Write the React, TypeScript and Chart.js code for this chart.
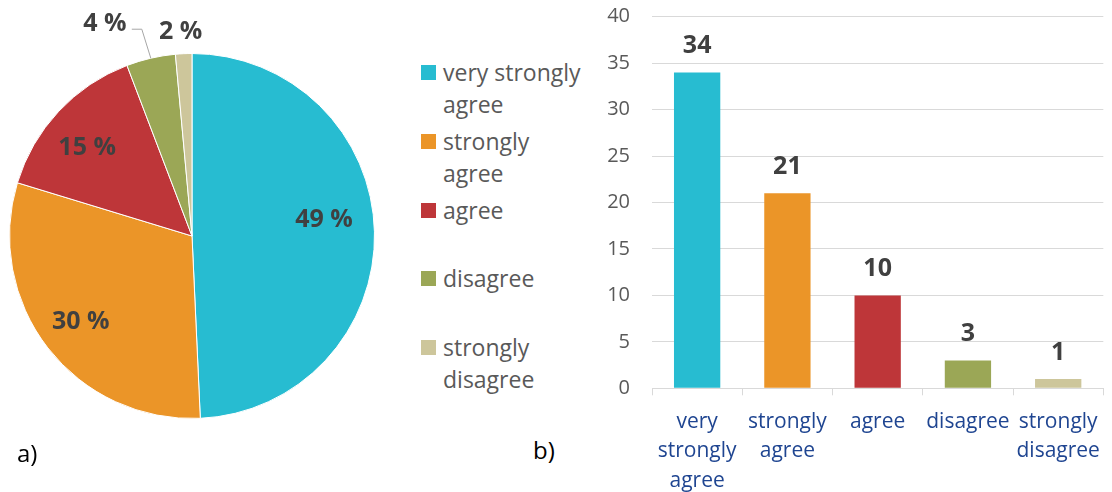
import React, { useEffect, useRef } from 'react';
import { Chart, registerables } from 'chart.js';

Chart.register(...registerables);

// ---------- data ----------
const categories = ['very strongly agree', 'strongly agree', 'agree', 'disagree', 'strongly disagree'];
const counts = [34, 21, 10, 3, 1];
const piePercentLabels = ['49 %', '30 %', '15 %', '4 %', '2 %'];
const legendLines = [['very strongly', 'agree'], ['strongly', 'agree'], ['agree'], ['disagree'], ['strongly', 'disagree']];
const barTickLines = [['very', 'strongly', 'agree'], ['strongly', 'agree'], ['agree'], ['disagree'], ['strongly', 'disagree']];
const yMin = 0;
const yMax = 40;
const yStep = 5;
const colors = ['#27BCD1', '#EB9528', '#BE3639', '#9BA756', '#CDC69B'];

const FONT = "'Open Sans', sans-serif";

// placement of pie labels (style only)
const piePlacements = [
  { inside: true, rf: 0.73, da: -6.4 },
  { inside: true, rf: 0.763, da: 0.8 },
  { inside: true, rf: 0.756, da: -2.5 },
  { inside: false, dx: -46, dy: -36, leader: [[-9, -29], [-19, -29]] },
  { inside: false, dx: -3, dy: -23.5 },
];

const pieLabelPlugin = {
  id: 'pieLabels',
  afterDatasetsDraw(chart: any) {
    const ctx = chart.ctx;
    const meta = chart.getDatasetMeta(0);
    ctx.save();
    ctx.font = `bold 25px ${FONT}`;
    ctx.fillStyle = '#404040';
    ctx.textAlign = 'center';
    ctx.textBaseline = 'alphabetic';
    meta.data.forEach((arc: any, i: number) => {
      const { x, y, startAngle, endAngle, outerRadius } = arc.getProps(
        ['x', 'y', 'startAngle', 'endAngle', 'outerRadius'],
        true
      );
      const p: any = piePlacements[i];
      const mid = (startAngle + endAngle) / 2 + ((p.da || 0) * Math.PI) / 180;
      let lx: number, ly: number;
      if (p.inside) {
        lx = x + Math.cos(mid) * outerRadius * p.rf;
        ly = y + Math.sin(mid) * outerRadius * p.rf;
      } else {
        const ex = x + Math.cos(mid) * outerRadius;
        const ey = y + Math.sin(mid) * outerRadius;
        lx = ex + p.dx;
        ly = ey + p.dy;
        if (p.leader) {
          ctx.save();
          ctx.strokeStyle = '#A6A6A6';
          ctx.lineWidth = 1;
          ctx.beginPath();
          ctx.moveTo(ex, ey);
          p.leader.forEach((pt: number[]) => ctx.lineTo(ex + pt[0], ey + pt[1]));
          ctx.stroke();
          ctx.restore();
        }
      }
      ctx.fillText(piePercentLabels[i], lx, ly + 9);
    });
    ctx.restore();
  },
};

const barValuePlugin = {
  id: 'barValues',
  afterDatasetsDraw(chart: any) {
    const ctx = chart.ctx;
    const meta = chart.getDatasetMeta(0);
    ctx.save();
    ctx.font = `bold 25px ${FONT}`;
    ctx.fillStyle = '#404040';
    ctx.textAlign = 'center';
    ctx.textBaseline = 'alphabetic';
    meta.data.forEach((bar: any, i: number) => {
      ctx.fillText(String(counts[i]), bar.x, bar.y - 28.5 + 9);
    });
    ctx.restore();
  },
};

export default function App() {
  const pieRef = useRef<HTMLCanvasElement>(null);
  const barRef = useRef<HTMLCanvasElement>(null);

  useEffect(() => {
    const pie = new Chart(pieRef.current as HTMLCanvasElement, {
      type: 'pie',
      data: {
        labels: categories,
        datasets: [
          {
            data: counts,
            backgroundColor: colors,
            borderColor: '#FFFFFF',
            borderWidth: 1,
          },
        ],
      },
      options: {
        responsive: false,
        animation: false,
        layout: { padding: { left: 9, top: 53, right: 25, bottom: 73 } },
        plugins: { legend: { display: false }, tooltip: { enabled: false } },
      },
      plugins: [pieLabelPlugin],
    } as any);

    const bar = new Chart(barRef.current as HTMLCanvasElement, {
      type: 'bar',
      data: {
        labels: barTickLines,
        datasets: [
          {
            data: counts,
            backgroundColor: colors,
            barPercentage: 0.513,
            categoryPercentage: 1,
          },
        ],
      },
      options: {
        responsive: false,
        animation: false,
        layout: { padding: { top: 16.7, right: 1, left: 0, bottom: 0 } },
        plugins: { legend: { display: false }, tooltip: { enabled: false } },
        scales: {
          y: {
            min: yMin,
            max: yMax,
            ticks: {
              stepSize: yStep,
              color: '#595959',
              font: { family: FONT, size: 20 },
              padding: 22,
            },
            grid: { color: '#D9D9D9', lineWidth: 1, drawTicks: false },
            border: { display: false },
            afterFit: (s: any) => {
              s.width = 62;
              s.paddingTop = 0;
              s.paddingBottom = 0;
            },
          },
          x: {
            offset: true,
            grid: {
              display: true,
              drawOnChartArea: false,
              drawTicks: true,
              tickLength: 7,
              color: '#D9D9D9',
              offset: true,
            },
            border: { display: true, color: '#D9D9D9', width: 1 },
            ticks: {
              color: '#1F4591',
              font: { family: FONT, size: 21, lineHeight: 1.4 },
              padding: 12,
              maxRotation: 0,
              autoSkip: false,
            },
            afterFit: (s: any) => {
              s.height = 103.7;
            },
          },
        },
      },
      plugins: [barValuePlugin],
    } as any);

    return () => {
      pie.destroy();
      bar.destroy();
    };
  }, []);

  return (
    <div
      style={{
        position: 'absolute',
        left: 0,
        top: 0,
        width: 1112,
        height: 492,
        background: '#FFFFFF',
        overflow: 'hidden',
        fontFamily: FONT,
      }}
    >
      <canvas ref={pieRef} width={400} height={492} style={{ position: 'absolute', left: 0, top: 0, width: 400, height: 492 }} />
      <canvas ref={barRef} width={522} height={492} style={{ position: 'absolute', left: 590, top: 0, width: 522, height: 492 }} />
      <div style={{ position: 'absolute', left: 421, top: 56 }}>
        {legendLines.map((lines, i) => (
          <div key={i} style={{ position: 'absolute', left: 0, top: i * 68.75, width: 170 }}>
            <div
              style={{
                position: 'absolute',
                left: 0,
                top: 9,
                width: 15,
                height: 15,
                background: colors[i],
              }}
            />
            <div
              style={{
                position: 'absolute',
                left: 22,
                top: 0,
                fontSize: 23,
                lineHeight: '32px',
                color: '#595959',
                whiteSpace: 'nowrap',
              }}
            >
              {lines.map((l, j) => (
                <div key={j}>{l}</div>
              ))}
            </div>
          </div>
        ))}
      </div>
      <div style={{ position: 'absolute', left: 17, top: 441, fontSize: 24, lineHeight: '24px', color: '#000' }}>a)</div>
      <div style={{ position: 'absolute', left: 533, top: 438, fontSize: 24, lineHeight: '24px', color: '#000' }}>b)</div>
    </div>
  );
}
